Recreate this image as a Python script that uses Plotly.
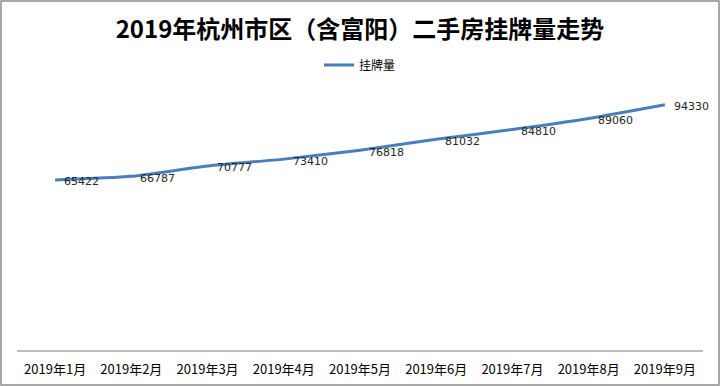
import plotly.graph_objects as go

months = ["2019年1月", "2019年2月", "2019年3月", "2019年4月", "2019年5月",
          "2019年6月", "2019年7月", "2019年8月", "2019年9月"]
listings = [65422, 66787, 70777, 73410, 76818, 81032, 84810, 89060, 94330]
series_name = "挂牌量"
title_text = "2019年杭州市区（含富阳）二手房挂牌量走势"

W, H = 720, 386
ml, mr, mt, mb = 17, 17, 90, 36
pw, ph = W - ml - mr, H - mt - mb

def px_x(p):
    return (p - ml) / pw

def px_y(p):
    return (H - mb - p) / ph

fig = go.Figure()
fig.add_trace(go.Scatter(
    x=months, y=listings, name=series_name,
    mode="lines",
    line=dict(color="#4a7ebb", width=3, shape="spline", smoothing=0.6),
    hoverinfo="skip",
))

for m, v in zip(months, listings):
    fig.add_annotation(x=m, y=v, text=str(v), showarrow=False,
                       xanchor="left", yanchor="middle", xshift=7, yshift=-2,
                       font=dict(family="DejaVu Sans", size=11, color="#262626"))

fig.update_layout(
    width=W, height=H,
    margin=dict(l=ml, r=mr, t=mt, b=mb, autoexpand=False),
    paper_bgcolor="white", plot_bgcolor="white",
    title=dict(text="<b>" + title_text + "</b>", x=0.5, xanchor="center",
               y=1 - 30 / H, yanchor="middle", yref="container",
               font=dict(family="Noto Sans CJK SC", size=24, color="#000000")),
    showlegend=True,
    legend=dict(orientation="h", x=0.5, xanchor="center", y=px_y(65), yanchor="middle",
                font=dict(family="Noto Sans CJK SC", size=12, color="#000000"),
                bgcolor="rgba(0,0,0,0)", itemwidth=30),
    xaxis=dict(type="category", range=[-0.5, len(months) - 0.5], autorange=False,
               automargin=False,
               showgrid=False, showline=True, linecolor="#bfbfbf", linewidth=1.5,
               ticks="", zeroline=False, ticklabelstandoff=7,
               tickfont=dict(family="Noto Sans CJK SC", size=13, color="#000000")),
    yaxis=dict(range=[0, 100000], autorange=False, visible=False, showgrid=False,
               zeroline=False, automargin=False),
    shapes=[dict(type="rect", xref="paper", yref="paper",
                 x0=px_x(1), x1=px_x(719), y0=px_y(385), y1=px_y(1),
                 line=dict(color="#8c8c8c", width=1.5), fillcolor="rgba(0,0,0,0)")],
)

fig.write_html("out.html", config={"displayModeBar": False},
               post_script="document.body.style.margin='0';document.body.style.overflow='hidden';")
